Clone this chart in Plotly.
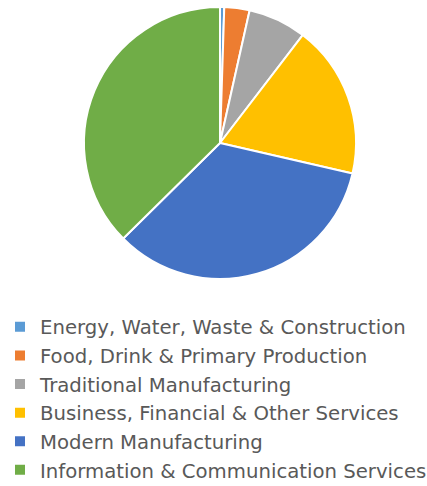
import plotly.graph_objects as go

# Share of businesses by sector (%)
sectors = [
    "Energy, Water, Waste & Construction",
    "Food, Drink & Primary Production",
    "Traditional Manufacturing",
    "Business, Financial & Other Services",
    "Modern Manufacturing",
    "Information & Communication Services",
]
shares = [0.5, 3.0, 6.9, 18.2, 34.0, 37.4]
colors = ["#5B9BD5", "#ED7D31", "#A5A5A5", "#FFC000", "#4472C4", "#70AD47"]

W, H = 427, 486

fig = go.Figure(
    go.Pie(
        labels=sectors,
        values=shares,
        sort=False,
        direction="clockwise",
        rotation=0,
        marker=dict(colors=colors, line=dict(color="white", width=2)),
        textinfo="none",
        hoverinfo="label+percent",
        domain=dict(x=[(220 - 136) / W, (220 + 136) / W], y=[(H - 279) / H, (H - 7) / H]),
    )
)

fig.update_layout(
    width=W,
    height=H,
    margin=dict(l=0, r=0, t=0, b=0, autoexpand=False),
    paper_bgcolor="white",
    plot_bgcolor="white",
    showlegend=True,
    legend=dict(
        x=0.0,
        y=(H - 307.5) / H,
        xanchor="left",
        yanchor="top",
        orientation="v",
        font=dict(family="DejaVu Sans", size=19.7, color="#595959"),
        itemsizing="constant",
        tracegroupgap=0,
    ),
)

fig.write_html("out.html")
